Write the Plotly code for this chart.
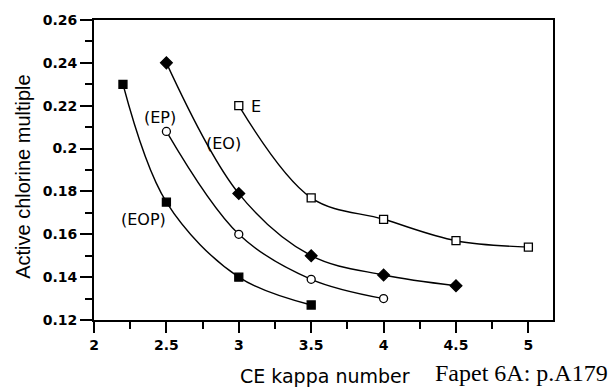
import plotly.graph_objects as go

# Data
eop_x = [2.2, 2.5, 3.0, 3.5]
eop_y = [0.230, 0.175, 0.140, 0.127]
ep_x = [2.5, 3.0, 3.5, 4.0]
ep_y = [0.208, 0.160, 0.139, 0.130]
eo_x = [2.5, 3.0, 3.5, 4.0, 4.5]
eo_y = [0.240, 0.179, 0.150, 0.141, 0.136]
e_x = [3.0, 3.5, 4.0, 4.5, 5.0]
e_y = [0.220, 0.177, 0.167, 0.157, 0.154]

x_ticks = [2, 2.5, 3, 3.5, 4, 4.5, 5]
x_labels = ["2", "2.5", "3", "3.5", "4", "4.5", "5"]
y_ticks = [0.12, 0.14, 0.16, 0.18, 0.2, 0.22, 0.24, 0.26]
y_labels = ["0.12", "0.14", "0.16", "0.18", "0.2", "0.22", "0.24", "0.26"]

fig = go.Figure()

def add_series(x, y, symbol, fill, size):
    fig.add_trace(go.Scatter(
        x=x, y=y, mode="lines+markers",
        line=dict(color="black", width=1.4, shape="spline", smoothing=1.0),
        marker=dict(symbol=symbol, size=size,
                    color="black" if fill else "white",
                    line=dict(color="black", width=1.3)),
        showlegend=False))

add_series(eop_x, eop_y, "square", True, 8)
add_series(ep_x, ep_y, "circle", False, 8)
add_series(eo_x, eo_y, "diamond", True, 9)
add_series(e_x, e_y, "square", False, 8)

lab_font = dict(family="DejaVu Sans", size=16, color="black")
fig.add_annotation(x=2.455, y=0.2147, text="(EP)", showarrow=False, font=lab_font)
fig.add_annotation(x=2.897, y=0.2022, text="(EO)", showarrow=False, font=lab_font)
fig.add_annotation(x=3.07, y=0.2195, text="E", showarrow=False, font=lab_font, xanchor="left")
fig.add_annotation(x=2.345, y=0.1667, text="(EOP)", showarrow=False, font=lab_font)

# axis titles as paper annotations
fig.add_annotation(xref="paper", yref="paper", x=-0.155, y=0.48, text="Active chlorine multiple",
                   textangle=-90, showarrow=False, xanchor="center", yanchor="middle",
                   font=dict(family="Liberation Sans, Arial", size=20, color="black"))
fig.add_annotation(xref="paper", yref="paper", x=0.503, y=-0.185, yanchor="middle", xanchor="center",
                   text="CE kappa number", showarrow=False,
                   font=dict(family="DejaVu Sans", size=19, color="black"))
fig.add_annotation(xref="paper", yref="paper", x=0.7386, y=-0.178, yanchor="middle", xanchor="left",
                   text="Fapet 6A: p.A179", showarrow=False,
                   font=dict(family="Liberation Serif, Times New Roman", size=24, color="black"))

tickfont = dict(family="DejaVu Sans", size=14, color="black", weight="bold")

fig.update_xaxes(range=[2, 5.17], tickvals=x_ticks, ticktext=x_labels,
                 showgrid=False, zeroline=False, showline=True, mirror=True,
                 linecolor="black", linewidth=2, ticks="outside", ticklen=11,
                 tickwidth=2, tickcolor="black", tickfont=tickfont,
                 minor=dict(ticks="outside", dtick=0.25, tick0=2, ticklen=7,
                            tickwidth=2, tickcolor="black", showgrid=False))
fig.update_yaxes(range=[0.12, 0.26], tickvals=y_ticks, ticktext=y_labels,
                 showgrid=False, zeroline=False, showline=True, mirror=True,
                 linecolor="black", linewidth=2, ticks="outside", ticklen=12,
                 tickwidth=2, tickcolor="black", tickfont=tickfont,
                 minor=dict(ticks="outside", dtick=0.01, tick0=0.12, ticklen=7,
                            tickwidth=2, tickcolor="black", showgrid=False))

fig.update_layout(width=608, height=389, margin=dict(l=94, r=55, t=17, b=69),
                  paper_bgcolor="white", plot_bgcolor="white")

fig.write_html("out.html")
